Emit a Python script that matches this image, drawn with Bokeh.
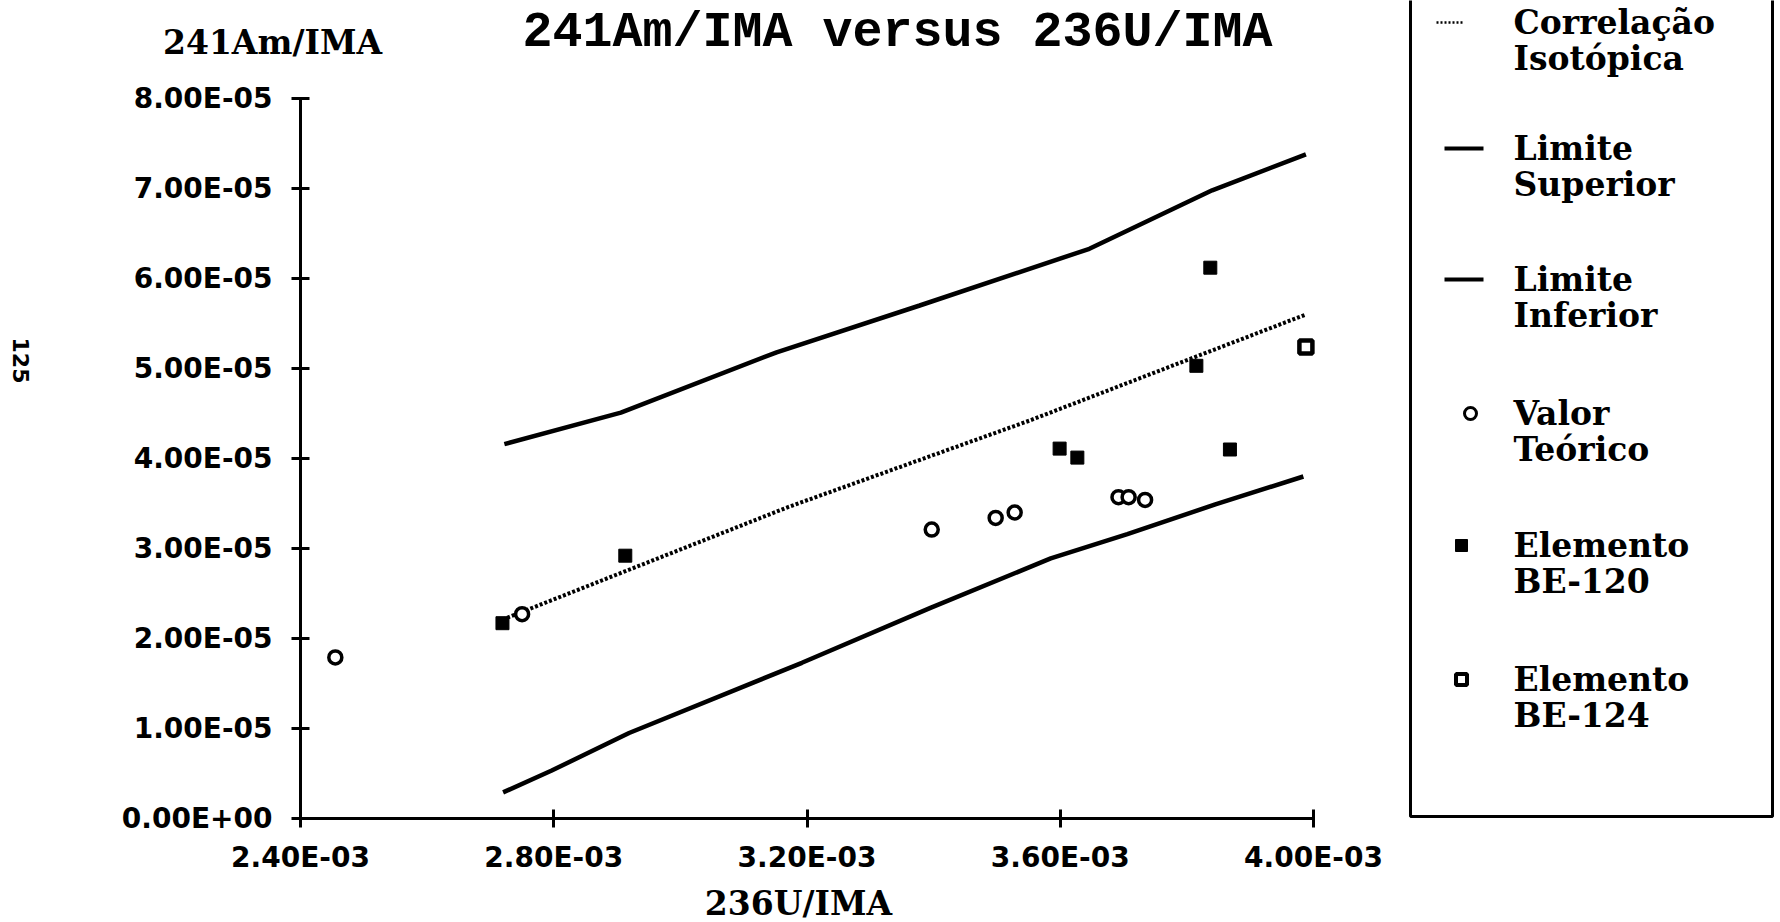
import math
from bokeh.plotting import figure
from bokeh.models import Range1d, FixedTicker
from bokeh.core.properties import value
from bokeh.embed import file_html
from bokeh.resources import INLINE

# ---------------- data ----------------
x_ticks = [2.40e-3, 2.80e-3, 3.20e-3, 3.60e-3, 4.00e-3]
x_tick_labels = ["2.40E-03", "2.80E-03", "3.20E-03", "3.60E-03", "4.00E-03"]
y_ticks = [0.0, 1e-5, 2e-5, 3e-5, 4e-5, 5e-5, 6e-5, 7e-5, 8e-5]
y_tick_labels = ["0.00E+00", "1.00E-05", "2.00E-05", "3.00E-05", "4.00E-05",
                 "5.00E-05", "6.00E-05", "7.00E-05", "8.00E-05"]

# Valor Teórico (open circles)
valor_x = [2.455e-3, 2.750e-3, 3.397e-3, 3.498e-3, 3.528e-3, 3.692e-3, 3.708e-3, 3.734e-3]
valor_y = [1.79e-5, 2.27e-5, 3.21e-5, 3.34e-5, 3.40e-5, 3.57e-5, 3.57e-5, 3.54e-5]

# Elemento BE-120 (filled squares)
be120_x = [2.719e-3, 2.913e-3, 3.599e-3, 3.627e-3, 3.815e-3, 3.837e-3, 3.868e-3]
be120_y = [2.17e-5, 2.92e-5, 4.11e-5, 4.01e-5, 5.03e-5, 6.12e-5, 4.10e-5]

# Elemento BE-124
be124_x = [3.988e-3]
be124_y = [5.24e-5]

# Correlação Isotópica (dotted)
corr_x = [2.719e-3, 3.170e-3, 3.551e-3, 3.810e-3, 3.988e-3]
corr_y = [2.21e-5, 3.46e-5, 4.42e-5, 5.12e-5, 5.60e-5]

# Limite Superior
sup_x = [2.722e-3, 2.906e-3, 3.152e-3, 3.378e-3, 3.646e-3, 3.840e-3, 3.988e-3]
sup_y = [4.16e-5, 4.51e-5, 5.18e-5, 5.70e-5, 6.33e-5, 6.98e-5, 7.38e-5]

# Limite Inferior
inf_x = [2.720e-3, 2.796e-3, 2.919e-3, 3.192e-3, 3.395e-3, 3.585e-3, 3.706e-3, 3.845e-3, 3.984e-3]
inf_y = [0.29e-5, 0.53e-5, 0.95e-5, 1.73e-5, 2.34e-5, 2.89e-5, 3.16e-5, 3.49e-5, 3.80e-5]

title_text = "241Am/IMA versus 236U/IMA"
x_title = "236U/IMA"
y_title = "241Am/IMA"
page_number = "125"
legend_labels = [["Correlação", "Isotópica"], ["Limite", "Superior"], ["Limite", "Inferior"],
                 ["Valor", "Teórico"], ["Elemento", "BE-120"], ["Elemento", "BE-124"]]

# ---------------- layout geometry (pixels) ----------------
W, H = 1780, 922
AX_L, AX_R = 300, 1313     # pixel x of 2.40E-03 and 4.00E-03
AX_B, AX_T = 818, 98       # pixel y of 0.00E+00 and 8.00E-05
x0, x1 = x_ticks[0], x_ticks[-1]
y0, y1 = y_ticks[0], y_ticks[-1]
kx = (x1 - x0) / (AX_R - AX_L)
ky = (y1 - y0) / (AX_B - AX_T)

# the frame covers the whole canvas; axes are pinned at their data locations
p = figure(width=W, height=H,
           x_range=Range1d(x0 - AX_L * kx, x0 + (W - AX_L) * kx),
           y_range=Range1d(y0 - (H - AX_B) * ky, y0 + AX_B * ky),
           output_backend="svg", toolbar_location=None, min_border=0)
p.extra_x_ranges = {"px": Range1d(0, W)}
p.extra_y_ranges = {"px": Range1d(H, 0)}
p.grid.visible = False
p.outline_line_color = None
p.background_fill_color = "white"
p.border_fill_color = "white"

# ---------------- data marks ----------------
p.line(sup_x, sup_y, line_color="black", line_width=4.5)
p.line(inf_x, inf_y, line_color="black", line_width=4.5)
p.line(corr_x, corr_y, line_color="black", line_width=4, line_dash="3 2")
p.scatter(valor_x, valor_y, marker="circle", size=13, fill_color="white",
          line_color="black", line_width=3.5)
p.scatter(be120_x, be120_y, marker="square", size=13, fill_color="black", line_color="black")
p.scatter(be124_x, be124_y, marker="square", size=13, fill_color="white",
          line_color="black", line_width=4.5)

# ---------------- axes ----------------
for ax in (p.xaxis[0], p.yaxis[0]):
    ax.axis_line_width = 3
    ax.axis_line_color = "black"
    ax.major_tick_line_width = 3
    ax.major_tick_line_color = "black"
    ax.major_tick_in = 9
    ax.major_tick_out = 9
    ax.minor_tick_line_color = None
    ax.major_label_text_font = "DejaVu Sans"
    ax.major_label_text_font_style = "bold"
    ax.major_label_text_font_size = "28px"
    ax.major_label_text_color = "black"

p.xaxis.fixed_location = y0
p.yaxis.fixed_location = x0
p.xaxis.bounds = (x0, x1)
p.yaxis.bounds = (y0, y1)
p.xaxis.ticker = FixedTicker(ticks=x_ticks)
p.xaxis.major_label_overrides = dict(zip(x_ticks, x_tick_labels))
p.yaxis.ticker = FixedTicker(ticks=y_ticks)
p.yaxis.major_label_overrides = dict(zip(y_ticks, y_tick_labels))
p.xaxis.major_label_standoff = 13
p.yaxis.major_label_standoff = 19

# ---------------- texts (pixel space) ----------------
def px_text(x, y, s, font, size, style="bold", align="center", baseline="alphabetic", angle=0.0):
    p.text(x=[x], y=[y], text=[s], angle=angle, x_range_name="px", y_range_name="px",
           text_font=value(font), text_font_style=style, text_font_size=size,
           text_align=align, text_baseline=baseline, text_color="black")

px_text(897, 32, title_text, "Liberation Mono", "50px")
px_text(272, 42, y_title, "DejaVu Serif", "33px")
px_text(798, 903, x_title, "DejaVu Serif", "33px")
px_text(20, 360, page_number, "DejaVu Sans", "22px", style="bold", baseline="middle",
        angle=-math.pi / 2)

# ---------------- legend (pixel space) ----------------
p.quad(left=[1410], right=[1772], top=[-20], bottom=[816], fill_color=None,
       line_color="black", line_width=3, x_range_name="px", y_range_name="px")

entry_y = [22, 148, 279, 413, 545, 679]
text_x = 1513
p.segment(x0=[1436], y0=[entry_y[0]], x1=[1464], y1=[entry_y[0]],
          line_color="black", line_width=2.5, line_dash="2 2", x_range_name="px", y_range_name="px")
p.segment(x0=[1444, 1444], y0=[entry_y[1], entry_y[2]], x1=[1483, 1483],
          y1=[entry_y[1], entry_y[2]], line_color="black", line_width=4,
          x_range_name="px", y_range_name="px")
p.scatter(x=[1470], y=[entry_y[3]], marker="circle", size=12, fill_color="white",
          line_color="black", line_width=3, x_range_name="px", y_range_name="px")
p.scatter(x=[1461], y=[entry_y[4]], marker="square", size=12, fill_color="black",
          line_color="black", x_range_name="px", y_range_name="px")
p.scatter(x=[1461], y=[entry_y[5]], marker="square", size=11, fill_color="white",
          line_color="black", line_width=4, x_range_name="px", y_range_name="px")

tx, ty, tt = [], [], []
for yc, lines in zip(entry_y, legend_labels):
    for k, s in enumerate(lines):
        tx.append(text_x)
        ty.append(yc + 36 * k)
        tt.append(s)
p.text(x=tx, y=ty, text=tt, text_font=value("DejaVu Serif"), text_font_style="bold",
       text_font_size="33px", text_baseline="middle", text_align="left", text_color="black",
       x_range_name="px", y_range_name="px")

open("out.html", "w").write(file_html(p, INLINE))
